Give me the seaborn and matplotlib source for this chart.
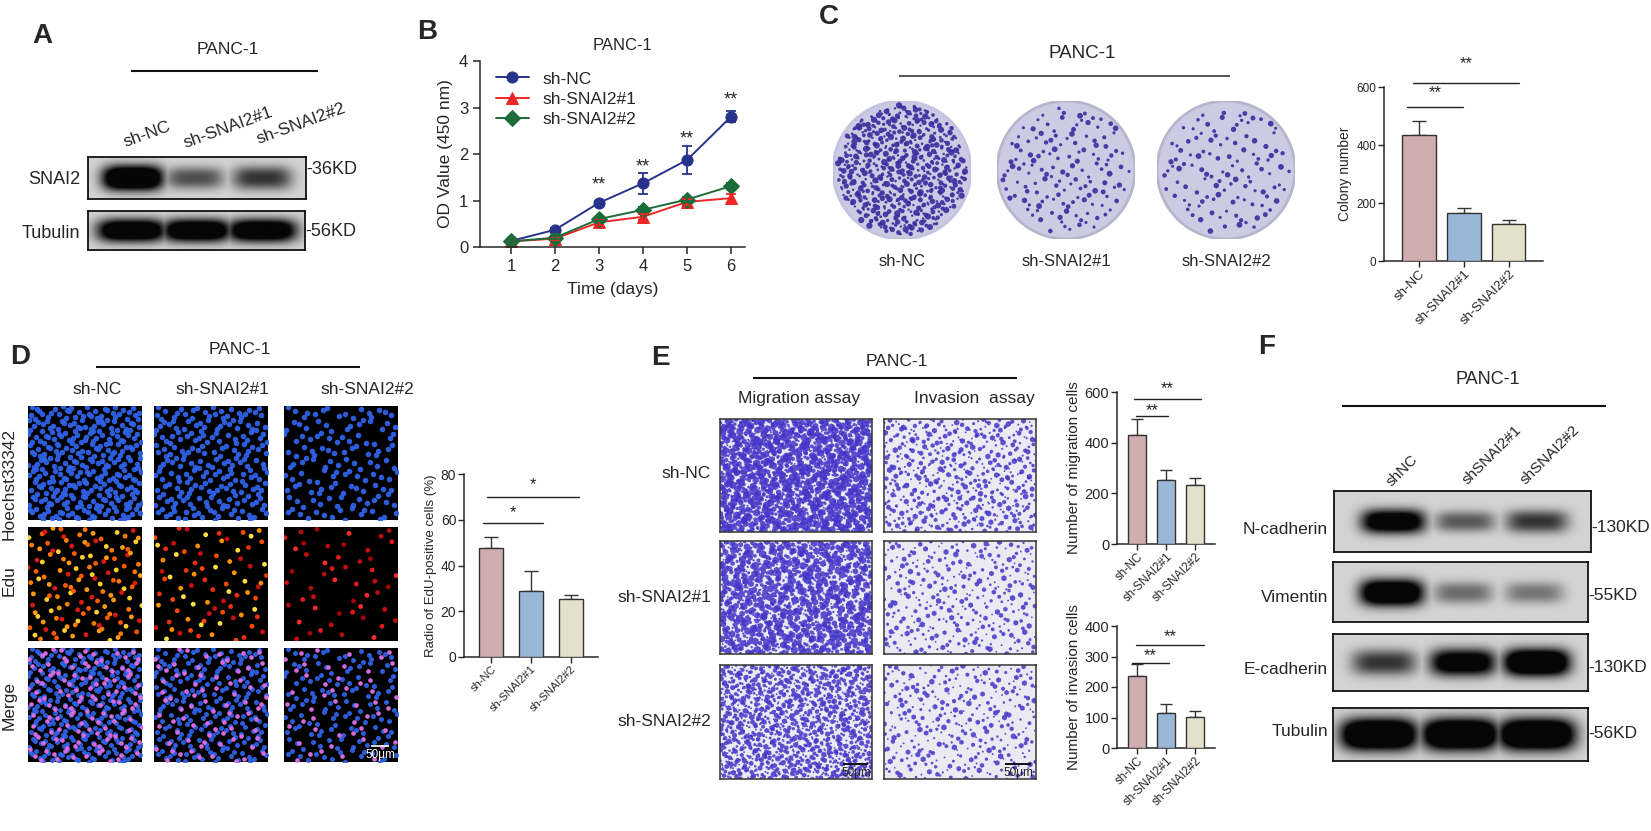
import numpy as np
import pandas as pd
import matplotlib
matplotlib.use("Agg")
import matplotlib.pyplot as plt
from matplotlib.patches import Circle
import seaborn as sns

# ---------------- data ----------------
groups = ["sh-NC", "sh-SNAI2#1", "sh-SNAI2#2"]
days = [1, 2, 3, 4, 5, 6]
od_nc = [0.13, 0.37, 0.95, 1.37, 1.87, 2.80]
od_nc_err = [0.02, 0.04, 0.05, 0.23, 0.30, 0.12]
od_s1 = [0.12, 0.18, 0.53, 0.65, 0.97, 1.05]
od_s1_err = [0.02, 0.03, 0.06, 0.07, 0.07, 0.10]
od_s2 = [0.12, 0.20, 0.60, 0.80, 1.02, 1.31]
od_s2_err = [0.02, 0.03, 0.04, 0.05, 0.05, 0.06]
od_star_days = [3, 4, 5, 6]
od_star_y = [1.33, 1.72, 2.33, 3.16]

colony_mean = [433, 165, 128]
colony_err = [50, 17, 12]
edu_mean = [47.5, 29.0, 25.3]
edu_err = [5.0, 8.5, 2.0]
mig_mean = [432, 252, 232]
mig_err = [60, 40, 30]
inv_mean = [235, 115, 103]
inv_err = [40, 28, 17]

# western blot band strengths (relative darkness, >1 saturates)
snai2_band = [1.7, 0.7, 0.85]
tubulin_a_band = [1.5, 1.5, 1.5]
ncad_band = [1.4, 0.65, 0.85]
vim_band = [1.6, 0.55, 0.5]
ecad_band = [0.85, 1.35, 1.7]
tubulin_f_band = [1.8, 1.8, 1.8]

# image texture densities (number of stained objects drawn)
hoechst_counts = [330, 230, 140]
edu_counts = [130, 80, 50]
colony_counts = [800, 210, 170]
migration_counts = [1300, 1000, 1100]
invasion_counts = [520, 330, 330]

# ---------------- style ----------------
sns.set_style("ticks")
plt.rcParams["font.family"] = ["Liberation Sans", "DejaVu Sans"]
plt.rcParams["axes.linewidth"] = 1.1

W, H = 1651, 831
fig = plt.figure(figsize=(W / 100, H / 100), dpi=100)


def px_axes(x0, y0, x1, y1, **kw):
    return fig.add_axes([x0 / W, 1 - y1 / H, (x1 - x0) / W, (y1 - y0) / H], **kw)


def halton(n, b, skip=0):
    out = np.zeros(n)
    for i in range(n):
        f, r, k = 1.0, 0.0, i + 1 + skip
        while k > 0:
            f /= b
            r += f * (k % b)
            k //= b
        out[i] = r
    return out


bar_colors = ["#d6a7a9", "#8fb8e2", "#e9e3c6"]
line_colors = {"sh-NC": "#27338a", "sh-SNAI2#1": "#ee2626", "sh-SNAI2#2": "#1b6b3b"}
edge = "#333333"

# ---------------- Panel B: line chart ----------------
axB = px_axes(480, 61, 745, 247)
rows = []
for g, vals in zip(groups, [od_nc, od_s1, od_s2]):
    for d, v in zip(days, vals):
        rows.append({"day": d, "od": v, "group": g})
dfB = pd.DataFrame(rows)
sns.lineplot(data=dfB, x="day", y="od", hue="group", style="group",
             markers={"sh-NC": "o", "sh-SNAI2#1": "^", "sh-SNAI2#2": "D"},
             dashes=False, palette=line_colors, markersize=8, linewidth=1.4,
             markeredgecolor=None, ax=axB)
for g, vals, errs in zip(groups, [od_nc, od_s1, od_s2], [od_nc_err, od_s1_err, od_s2_err]):
    axB.errorbar(days, vals, yerr=errs, fmt="none", ecolor=line_colors[g],
                 elinewidth=1.3, capsize=3.5, capthick=1.3)
for d, y in zip(od_star_days, od_star_y):
    axB.text(d, y, "**", ha="center", va="center", fontsize=13)
axB.set_xlim(0.295, 6.32)
axB.set_ylim(0, 4)
axB.set_xticks(days)
axB.set_yticks([0, 1, 2, 3, 4])
axB.tick_params(labelsize=12, length=5, width=1.1)
axB.set_xlabel("Time (days)", fontsize=12.5, labelpad=6)
axB.set_ylabel("OD Value (450 nm)", fontsize=12.5, labelpad=4)
sns.despine(ax=axB)
h, l = axB.get_legend_handles_labels()
axB.legend(h, l, loc="upper left", bbox_to_anchor=(0.02, 1.0), frameon=False,
           fontsize=12.5, handlelength=1.9, labelspacing=0.3, borderaxespad=0.2)


# ---------------- bar panels ----------------
def bar_panel(rect, means, errs, ylim, yticks, ylabel, sigs, xlim, width,
              tickfs, labfs, xtickfs, starfs, cap):
    ax = px_axes(*rect)
    df = pd.DataFrame({"group": groups, "value": means})
    sns.barplot(data=df, x="group", y="value", hue="group", palette=bar_colors,
                width=width, edgecolor=edge, linewidth=1.0, errorbar=None,
                legend=False, ax=ax, zorder=3)
    ax.errorbar(range(3), means, yerr=[np.zeros(3), errs], fmt="none",
                ecolor=edge, elinewidth=1.0, capsize=cap, capthick=1.0, zorder=2)
    for x1, x2, y, ty, txt in sigs:
        ax.plot([x1, x2], [y, y], color="#222222", lw=1.0, clip_on=False)
        ax.text((x1 + x2) / 2, ty, txt, ha="center", va="center",
                fontsize=starfs, clip_on=False)
    ax.set_xlim(*xlim)
    ax.set_ylim(*ylim)
    ax.set_yticks(yticks)
    ax.set_xlabel("")
    ax.set_ylabel(ylabel, fontsize=labfs, labelpad=3)
    ax.tick_params(axis="y", labelsize=tickfs, length=4, width=1.0, pad=1.5)
    ax.tick_params(axis="x", length=4, width=1.0, pad=1)
    ax.set_xticks(range(3))
    ax.set_xticklabels(groups, rotation=45, ha="right", rotation_mode="anchor",
                       fontsize=xtickfs)
    sns.despine(ax=ax)
    return ax


bar_panel((1384, 87, 1543, 261), colony_mean, colony_err, (0, 600), [0, 200, 400, 600],
          "Colony number",
          [(-0.27, 0.98, 531, 580, "**"), (-0.13, 2.22, 614, 680, "**")],
          (-0.78, 2.76), 0.74, 8.5, 10, 9.5, 12, 5)
bar_panel((464, 474, 598, 657), edu_mean, edu_err, (0, 80), [0, 20, 40, 60, 80],
          "Radio of EdU-positive cells (%)",
          [(-0.2, 1.3, 58.6, 63.0, "*"), (-0.1, 2.2, 70, 75.5, "*")],
          (-0.68, 2.68), 0.62, 10, 9.5, 8, 12, 5)
bar_panel((1117, 392, 1215, 544), mig_mean, mig_err, (0, 600), [0, 200, 400, 600],
          "Number of migration cells",
          [(-0.03, 1.07, 505, 527, "**"), (-0.1, 2.2, 572, 612, "**")],
          (-0.69, 2.69), 0.65, 10.5, 11, 8.5, 12, 4)
bar_panel((1117, 626, 1215, 748), inv_mean, inv_err, (0, 400), [0, 100, 200, 300, 400],
          "Number of invasion cells",
          [(-0.18, 1.1, 279, 302, "**"), (-0.03, 2.3, 338, 364, "**")],
          (-0.69, 2.69), 0.65, 10.5, 11, 8.5, 12, 4)


# ---------------- western blots ----------------
def blot(rect, strengths, centers, halfw, halfh, bg=0.83, ycen=0.5):
    ax = px_axes(*rect)
    x = np.linspace(0, 1, 320)
    y = np.linspace(0, 1, 90)
    X, Y = np.meshgrid(x, y)
    dark = np.zeros_like(X)
    for c, a in zip(centers, strengths):
        f = min(a, 1.0)
        hh = halfh * (0.6 + 0.4 * f)
        hw = halfw * (0.85 + 0.15 * f)
        shape = np.exp(-np.abs((X - c) / hw) ** 4 - np.abs((Y - ycen) / hh) ** 2.4)
        dark = np.maximum(dark, np.clip(a * shape, 0, 1) * (0.97 if a > 1 else 0.9))
    img = bg * (1 - dark)
    ax.imshow(img, cmap="gray", vmin=0, vmax=1, aspect="auto",
              extent=[0, 1, 0, 1], interpolation="bilinear")
    ax.set_xticks([])
    ax.set_yticks([])
    for s in ax.spines.values():
        s.set_linewidth(1.3)
        s.set_color("#111111")
    return ax


blot((88, 157, 306, 199), snai2_band, [0.205, 0.49, 0.80], 0.14, 0.30)
blot((88, 211, 305, 250), tubulin_a_band, [0.2, 0.5, 0.80], 0.16, 0.30)
blot((1334, 491, 1591, 552), ncad_band, [0.23, 0.51, 0.79], 0.125, 0.20)
blot((1333, 562, 1588, 622), vim_band, [0.23, 0.51, 0.79], 0.125, 0.22, ycen=0.52)
blot((1333, 634, 1588, 691), ecad_band, [0.2, 0.51, 0.80], 0.13, 0.24)
blot((1333, 708, 1588, 761), tubulin_f_band, [0.18, 0.5, 0.8], 0.15, 0.30)

# ---------------- Panel D fluorescence images ----------------
d_cols = [(28, 142), (154, 268), (284, 398)]
d_rows = [(406, 520), (527, 641), (648, 762)]
edu_palettes = [["#ff5a00", "#ff9a10", "#ffd030", "#d81a10", "#ff7a00"],
                ["#ff4a00", "#ff9000", "#ffe040", "#c81010", "#e83010"],
                ["#c80c0c", "#a00606", "#ff2a2a", "#e01a1a", "#b01010"]]
for j, (x0, x1) in enumerate(d_cols):
    nb = hoechst_counts[j]
    bx, by = halton(nb, 2, 7 * j), halton(nb, 3, 7 * j)
    ne = edu_counts[j]
    ex, ey = halton(ne, 2, 1000 + 37 * j), halton(ne, 3, 1000 + 37 * j)
    for i, (y0, y1) in enumerate(d_rows):
        ax = px_axes(x0, y0, x1, y1)
        ax.set_facecolor("black")
        ax.set_xlim(0, 1)
        ax.set_ylim(0, 1)
        ax.set_xticks([])
        ax.set_yticks([])
        for s in ax.spines.values():
            s.set_visible(False)
        if i in (0, 2):
            ax.scatter(bx, by, s=16 if i == 0 else 13, c="#2f62e6", linewidths=0, alpha=0.95)
        if i == 1:
            cols = [edu_palettes[j][k % 5] for k in range(ne)]
            ax.scatter(ex, ey, s=12, c=cols, linewidths=0)
        if i == 2:
            ax.scatter(ex, ey, s=11, c="#d86ae0", linewidths=0)

# ---------------- Panel E transwell images ----------------
e_cols = [(720, 872), (884, 1036)]
e_rows = [(419, 532), (541, 654), (665, 779)]
for j, (x0, x1) in enumerate(e_cols):
    for i, (y0, y1) in enumerate(e_rows):
        ax = px_axes(x0, y0, x1, y1)
        ax.set_facecolor("#ebe9f2")
        ax.set_xlim(0, 1)
        ax.set_ylim(0, 1)
        ax.set_xticks([])
        ax.set_yticks([])
        for s in ax.spines.values():
            s.set_linewidth(1.1)
            s.set_color("#333333")
        n = migration_counts[i] if j == 0 else invasion_counts[i]
        px_, py_ = halton(n, 2, 13 * i + 29 * j), halton(n, 3, 13 * i + 29 * j)
        sz = halton(n, 5, 5 * i + 3 * j)
        if j == 0:
            smax = 34 if i < 2 else 18
        else:
            smax = 18
        ax.scatter(px_, py_, s=2 + smax * sz ** 2, c="#4435c8", linewidths=0,
                   alpha=0.85, marker="h")

# ---------------- Panel C colony dishes ----------------
dish_centers = [902, 1066, 1226]
for j, cx in enumerate(dish_centers):
    ax = px_axes(cx - 69, 101, cx + 69, 239)
    ax.set_xlim(0, 1)
    ax.set_ylim(0, 1)
    ax.axis("off")
    ax.add_patch(Circle((0.5, 0.5), 0.5, facecolor="#cbcbe3",
                        edgecolor="#b6b6cc" if j else "#c4c4e0", lw=2))
    n = colony_counts[j]
    cx_, cy_ = halton(n, 2, 17 * j + 1), halton(n, 3, 17 * j + 1)
    sz = halton(n, 5, 3 * j)
    keep = (cx_ - 0.5) ** 2 + (cy_ - 0.5) ** 2 < 0.47 ** 2
    sizes = (3 + 18 * sz[keep] ** 2) if j == 0 else (5 + 13 * sz[keep] ** 2)
    ax.scatter(cx_[keep], cy_[keep], s=sizes, c="#3a2d9e", linewidths=0, alpha=0.9)

# ---------------- overlay text ----------------
ov = fig.add_axes([0, 0, 1, 1], zorder=20)
ov.set_xlim(0, W)
ov.set_ylim(H, 0)
ov.axis("off")
ov.patch.set_alpha(0)


def T(x, y, s, fs=11.5, ha="center", va="center", **kw):
    ov.text(x, y, s, fontsize=fs, ha=ha, va=va, **kw)


def L(x0, x1, y, lw=1.5, color="#111111"):
    ov.plot([x0, x1], [y, y], color=color, lw=lw, solid_capstyle="butt")


# panel letters
for lab, x, y in [("A", 42, 36), ("B", 427, 32), ("C", 829, 17), ("D", 20, 357),
                  ("E", 660, 358), ("F", 1267, 347)]:
    T(x, y, lab, fs=20, weight="bold")

# A
T(228, 50, "PANC-1", 12.5)
L(131, 318, 71)
for (x, y), s in zip([(147, 134), (228, 128), (301, 124)], groups):
    T(x, y, s, 12.5, rotation=20)
T(80, 180, "SNAI2", 13, ha="right")
T(80, 233, "Tubulin", 13, ha="right")
T(306, 170, "-36KD", 13, ha="left")
T(305, 231, "-56KD", 13, ha="left")

# B title
T(623, 45, "PANC-1", 12)

# C
T(1082, 53, "PANC-1", 13.5)
L(899, 1230, 76, lw=1.4, color="#555555")
for x, s in zip(dish_centers, groups):
    T(x, 262, s, 12)

# D
T(240, 350, "PANC-1", 12.5)
L(96, 360, 367)
for x, s in zip([97, 222, 367], groups):
    T(x, 389, s, 12.5)
for y, s in zip([484, 581, 705], ["Hoechst33342", "Edu", "Merge"]):
    T(9, y, s, 12.5, rotation=90)
L(371, 389, 746, lw=1.2, color="white")
T(380, 755, "50μm", 8.5, color="white")

# E
T(897, 361, "PANC-1", 12.5)
L(753, 1017, 378)
T(799, 399, "Migration assay", 12.5)
T(974, 399, "Invasion  assay", 12.5)
for y, s in zip([474, 598, 722], groups):
    T(711, y, s, 12.5, ha="right")
L(843, 868, 764, lw=1.4)
T(856, 773, "50μm", 8.5)
L(1005, 1031, 764, lw=1.4)
T(1018, 773, "50μm", 8.5)

# F
T(1488, 380, "PANC-1", 13)
L(1342, 1606, 406)
for (x, y), s in zip([(1402, 471), (1492, 455), (1550, 455)],
                     ["shNC", "shSNAI2#1", "shSNAI2#2"]):
    T(x, y, s, 11, rotation=45)
for y, s in zip([529, 598, 669, 732], ["N-cadherin", "Vimentin", "E-cadherin", "Tubulin"]):
    T(1328, y, s, 12.5, ha="right")
for x, y, s in zip([1591, 1588, 1588, 1588], [528, 595, 668, 734],
                   ["-130KD", "-55KD", "-130KD", "-56KD"]):
    T(x, y, s, 12.5, ha="left")

fig.savefig("out.png", dpi=100)
